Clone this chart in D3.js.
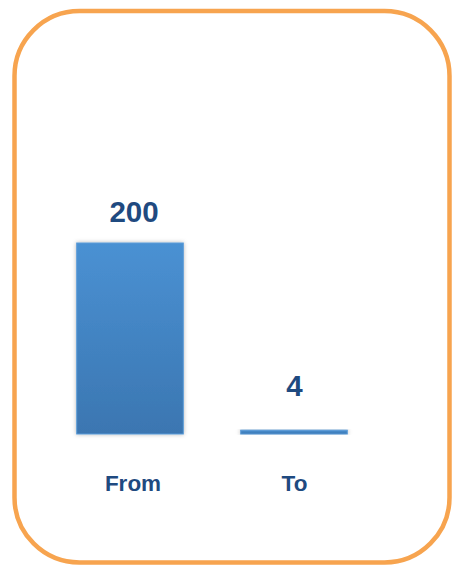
<!DOCTYPE html>
<html>
<head>
<meta charset="utf-8">
<script src="https://cdn.jsdelivr.net/npm/d3@7"></script>
<style>
  html, body { margin: 0; padding: 0; background: #ffffff; }
  svg { display: block; }
</style>
</head>
<body>
<div id="chart"></div>
<script>
// Chart data
const categories = ["From", "To"];
const values = [200, 4];
const valueLabels = ["200", "4"];

const width = 452, height = 565;
const textColor = "#1F4A80";

const svg = d3.select("#chart").append("svg")
  .attr("width", width)
  .attr("height", height);

const defs = svg.append("defs");

// Vertical gradient for the bars
const grad = defs.append("linearGradient")
  .attr("id", "barGrad")
  .attr("x1", 0).attr("y1", 0).attr("x2", 0).attr("y2", 1);
grad.append("stop").attr("offset", "0%").attr("stop-color", "#4A91D3");
grad.append("stop").attr("offset", "100%").attr("stop-color", "#3B76B1");

// Soft shadow around the bars
const shadow = defs.append("filter")
  .attr("id", "barShadow")
  .attr("x", "-20%").attr("y", "-20%").attr("width", "140%").attr("height", "140%");
shadow.append("feDropShadow")
  .attr("dx", 0).attr("dy", 0)
  .attr("stdDeviation", 2.2)
  .attr("flood-color", "#000")
  .attr("flood-opacity", 0.28);

// Rounded frame
svg.append("rect")
  .attr("x", 14.5).attr("y", 11)
  .attr("width", 435).attr("height", 551.5)
  .attr("rx", 65).attr("ry", 65)
  .attr("fill", "#ffffff")
  .attr("stroke", "#F7A44F")
  .attr("stroke-width", 4.5);

// Scales
const x = d3.scaleBand()
  .domain(categories)
  .range([48, 376])
  .paddingInner(0.35)
  .paddingOuter(0.175);

const y = d3.scaleLinear()
  .domain([0, 200])
  .range([434, 243]);

const data = categories.map((c, i) => ({ cat: c, value: values[i], label: valueLabels[i] }));

// Bars
svg.append("g").selectAll("rect")
  .data(data)
  .join("rect")
  .attr("x", d => x(d.cat))
  .attr("y", d => y(d.value))
  .attr("width", x.bandwidth())
  .attr("height", d => y(0) - y(d.value))
  .attr("fill", "url(#barGrad)")
  .attr("stroke", "#5A9BD8")
  .attr("stroke-width", 1)
  .attr("filter", "url(#barShadow)");

// Value labels above the bars
svg.append("g").selectAll("text")
  .data(data)
  .join("text")
  .attr("x", d => x(d.cat) + x.bandwidth() / 2 + (d.value > 100 ? 4 : 0.5))
  .attr("y", d => Math.min(y(d.value) - 21, y(0) - 38))
  .attr("text-anchor", "middle")
  .attr("font-family", "Liberation Sans, Arial, sans-serif")
  .attr("font-weight", "bold")
  .attr("font-size", 29.5)
  .attr("fill", textColor)
  .text(d => d.label);

// Category axis (labels only)
const xAxis = svg.append("g")
  .attr("transform", `translate(0, ${y(0)})`)
  .call(d3.axisBottom(x).tickSize(0).tickPadding(57));
xAxis.select(".domain").remove();
xAxis.selectAll("text")
  .attr("font-family", "Liberation Sans, Arial, sans-serif")
  .attr("font-weight", "bold")
  .attr("font-size", 22.5)
  .attr("fill", textColor)
  .attr("dy", 0)
  .attr("dx", d => d === "From" ? 3 : 0.5);
</script>
</body>
</html>
